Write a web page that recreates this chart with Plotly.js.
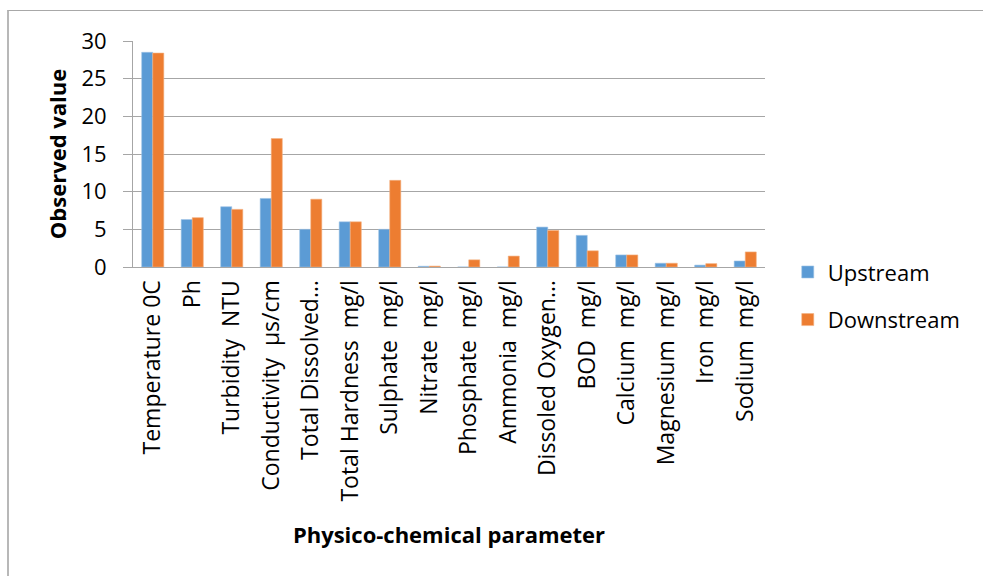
<!DOCTYPE html>
<html>
<head>
<meta charset="utf-8">
<script src="https://cdn.plot.ly/plotly-3.0.1.min.js"></script>
<style>
  html, body { margin: 0; padding: 0; background: #ffffff; }
  #wrap { position: relative; width: 983px; height: 576px; overflow: hidden; background: #fff; }
  #frame { position: absolute; left: 7px; top: 10px; width: 1100px; height: 700px;
           border-top: 1px solid #a8a8a8; border-left: 2px solid #b8b8b8; }
  #chart { position: absolute; left: 0; top: 0; width: 983px; height: 576px; }
</style>
</head>
<body>
<div id="wrap">
  <div id="frame"></div>
  <div id="chart"></div>
</div>
<script>
const categories = [
  "Temperature 0C", "Ph", "Turbidity\u00a0\u00a0NTU", "Conductivity\u00a0\u00a0µs/cm",
  "Total Dissolved…", "Total Hardness\u00a0\u00a0mg/l", "Sulphate\u00a0\u00a0mg/l",
  "Nitrate\u00a0\u00a0mg/l", "Phosphate\u00a0\u00a0mg/l", "Ammonia\u00a0\u00a0mg/l",
  "Dissoled Oxygen…", "BOD\u00a0\u00a0mg/l", "Calcium\u00a0\u00a0mg/l",
  "Magnesium\u00a0\u00a0mg/l", "Iron\u00a0\u00a0mg/l", "Sodium\u00a0\u00a0mg/l"
];
const upstream   = [28.5, 6.3, 8.0, 9.1, 5.0, 6.0, 5.0, 0.1, 0, 0, 5.3, 4.2, 1.6, 0.5, 0.25, 0.8];
const downstream = [28.4, 6.55, 7.65, 17.05, 9.0, 6.0, 11.5, 0.12, 0.95, 1.45, 4.85, 2.15, 1.6, 0.5, 0.45, 2.0];
const yTicks = [0, 5, 10, 15, 20, 25, 30];

const FONT = "Open Sans, Liberation Sans, sans-serif";

const traces = [
  { type: "bar", name: "Upstream", x: categories, y: upstream,
    marker: { color: "#5B9BD5", line: { color: "#9dc3e6", width: 0.6 } },
    legendgroup: "u" },
  { type: "bar", name: "Downstream", x: categories, y: downstream,
    marker: { color: "#ED7D31", line: { color: "#f4b183", width: 0.6 } },
    legendgroup: "d" }
];

const layout = {
  width: 983, height: 576,
  paper_bgcolor: "rgba(0,0,0,0)", plot_bgcolor: "rgba(0,0,0,0)",
  margin: { l: 133, r: 218, t: 41, b: 309, pad: 0 },
  font: { family: FONT, color: "#000", size: 21 },
  barmode: "group", bargap: 0.44, bargroupgap: 0,
  showlegend: true,
  legend: {
    x: 1.036, xanchor: "left", y: 0.07, yanchor: "top",
    traceorder: "grouped", tracegroupgap: 16,
    font: { family: FONT, size: 22, color: "#000" },
    bgcolor: "rgba(0,0,0,0)"
  },
  xaxis: {
    type: "category",
    tickangle: -90,
    tickfont: { family: FONT, size: 23, color: "#000" },
    ticks: "", ticklabelstandoff: 3,
    showline: true, linecolor: "#a6a6a6", linewidth: 1,
    showgrid: false, zeroline: false, automargin: false,
    title: { text: "<b>Physico-chemical parameter</b>",
             font: { family: FONT, size: 22, color: "#000" }, standoff: 27 }
  },
  yaxis: {
    range: [0, 30], tickvals: yTicks, ticktext: yTicks.map(String),
    tickfont: { family: FONT, size: 22, color: "#000" },
    ticks: "outside", ticklen: 9, tickcolor: "#a6a6a6", tickwidth: 1,
    ticklabelstandoff: 12,
    showline: true, linecolor: "#a6a6a6", linewidth: 1,
    showgrid: true, gridcolor: "#a6a6a6", gridwidth: 1,
    zeroline: false, automargin: false,
    title: { text: "<b>Observed value</b>",
             font: { family: FONT, size: 22, color: "#000" }, standoff: 8 }
  },
  hovermode: false
};

Plotly.newPlot("chart", traces, layout, { displayModeBar: false, staticPlot: true });
</script>
</body>
</html>
